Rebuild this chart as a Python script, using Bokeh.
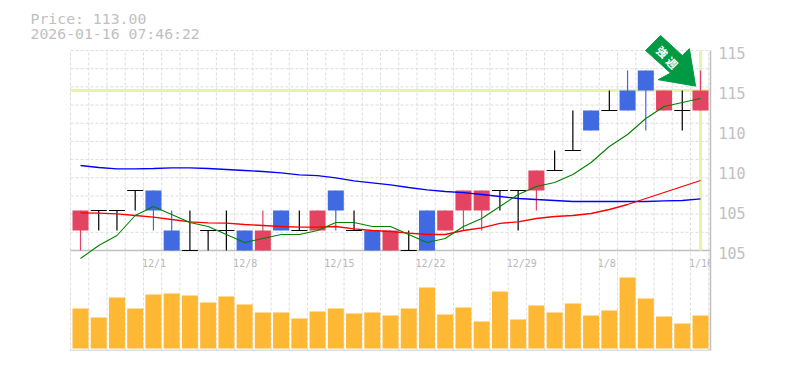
from bokeh.plotting import figure
from bokeh.embed import file_html
from bokeh.resources import INLINE
from bokeh.models import FixedTicker, LinearAxis, ColumnDataSource, Range1d
from bokeh.core.properties import value

# ---- data ----
opens  = [106,107,107,108,108,106,105,106,106,106,105,107,106,106,108,106,106,105,105,107,106,107,107,108,108,108,109,110,112,112,113,114,112,112,112]
closes = [107,107,107,108,107,105,105,106,106,105,106,106,106,107,107,106,105,106,105,105,107,108,108,108,108,109,109,110,111,112,112,113,113,112,113]
highs  = [107,107,107,108,108,107,107,106,107,106,107,107,107,107,108,107,106,106,106,107,107,108,108,108,108,109,110,112,112,113,114,114,113,113,114]
lows   = [105,106,106,107,106,105,105,105,105,105,105,106,106,106,106,106,105,105,105,105,106,106,106,107,106,107,109,110,111,112,112,111,112,111,112]
ma_short = [104.6,105.25,105.75,106.75,107.2,106.8,106.4,106.2,105.8,105.4,105.6,105.8,105.8,106.0,106.4,106.4,106.2,106.2,105.8,105.4,105.6,106.2,106.6,107.2,107.8,108.2,108.4,108.8,109.4,110.2,110.8,111.6,112.2,112.4,112.6]
ma_mid = [106.88,106.87,106.83,106.75,106.67,106.55,106.43,106.38,106.37,106.3,106.25,106.2,106.17,106.17,106.2,106.08,106.0,105.95,105.87,105.8,105.8,106.0,106.13,106.36,106.43,106.6,106.7,106.75,106.85,107.05,107.3,107.6,107.9,108.2,108.5]
ma_long = [109.25,109.15,109.08,109.08,109.1,109.13,109.13,109.1,109.05,109.0,108.95,108.88,108.78,108.74,108.63,108.48,108.38,108.28,108.15,108.03,107.95,107.89,107.8,107.7,107.6,107.55,107.5,107.45,107.45,107.45,107.45,107.45,107.48,107.5,107.58]
volume = [40,31,51,40,54,55,53,46,52,44,36,36,30,37,40,35,36,33,40,61,34,41,27,57,29,43,36,45,33,38,71,50,32,25,33]
date_idx = [4,9,14,19,24,29,34]
date_labels = ["12/1","12/8","12/15","12/22","12/29","1/8","1/16"]
price_ticks = [105,107,109,111,113,115]
price_labels = ["105","105","110","110","115","115"]
last_price = 113
title_lines = ["Price: 113.00","2026-01-16 07:46:22"]
title_y = [116.6,115.85]
badge_text = ["強","週"]
badge_x = [31.92,32.46]
badge_y = [114.95,114.4]
# arrow outline, in chart coordinates (candle index, price)
arrow_x = [31.81,30.99,32.36,31.68,33.73,33.39,33.0]
arrow_y = [115.75,115.0,113.87,113.54,113.22,115.09,114.75]

UP, DOWN, DOJI = "#e24462", "#4169e1", "#000000"
GREY = "#c0c0c0"
GRID = "#dcdcdc"
CROSS = "#e4f5ab"

n = len(opens)
xs = list(range(n))
PX = 18.235               # pixels per candle
XL, XR = -0.548, 34.548   # 70..710 px
X0 = XL - 70 / PX         # left edge of the page

p = figure(width=770, height=351, output_backend="svg", toolbar_location=None,
           x_range=Range1d(X0, XR), y_range=Range1d(100, 117.5),
           min_border_left=0, min_border_right=60, min_border_top=0, min_border_bottom=1,
           outline_line_color=None, background_fill_color="white", border_fill_color="white")
p.xaxis.visible = False
p.yaxis.visible = False
p.grid.visible = False

right = LinearAxis(ticker=FixedTicker(ticks=[t - 0.1 for t in price_ticks]),
                   major_label_overrides={t - 0.1: l for t, l in zip(price_ticks, price_labels)},
                   bounds=(100, 115),
                   axis_line_color=GREY, axis_line_width=1.5,
                   major_tick_line_color=None, minor_tick_line_color=None,
                   major_label_standoff=2,
                   major_label_text_color=GREY,
                   major_label_text_font="DejaVu Sans Mono",
                   major_label_text_font_size="15px")
p.add_layout(right, "right")

# dashed grid: vertical through both panels, horizontal in the price panel only
gx = [XL + i for i in range(n + 1)]
p.segment(x0=gx, x1=gx, y0=[100] * (n + 1), y1=[115] * (n + 1), line_color=GRID, line_dash="3 2", line_width=1)
gy = [105 + i * 10 / 11 for i in range(12)]
p.segment(x0=[XL] * 12, x1=[XR] * 12, y0=gy, y1=gy, line_color=GRID, line_dash="3 2", line_width=1)

# panel baselines
p.segment(x0=[XL, XL], x1=[XR, XR], y0=[105, 100], y1=[105, 100], line_color=GREY, line_width=1.5)

# crosshair at the last price and date
p.segment(x0=[XL], x1=[XR], y0=[last_price], y1=[last_price], line_color=CROSS, line_width=3)
p.segment(x0=[n - 1], x1=[n - 1], y0=[105], y1=[115], line_color=CROSS, line_width=3)

# volume: stands on the bottom band (1 px = 0.05 price units)
p.vbar(x=xs, top=[100.1 + v * 0.05 for v in volume], bottom=100.1, width=0.877, color="#ffb833", line_color=None)

colors = [UP if c > o else DOWN if c < o else DOJI for o, c in zip(opens, closes)]
src = ColumnDataSource(dict(x=xs, h=highs, l=lows, col=colors))
p.segment(x0="x", x1="x", y0="l", y1="h", line_color="col", line_width=1.2, source=src)
body = [i for i in xs if opens[i] != closes[i]]
p.vbar(x=[xs[i] for i in body], top=[max(opens[i], closes[i]) for i in body],
       bottom=[min(opens[i], closes[i]) for i in body], width=0.877,
       fill_color=[colors[i] for i in body], line_color=None)
doji = [i for i in xs if opens[i] == closes[i]]
p.segment(x0=[i - 0.4385 for i in doji], x1=[i + 0.4385 for i in doji],
          y0=[closes[i] for i in doji], y1=[closes[i] for i in doji], line_color=DOJI, line_width=1.2)

p.line(xs, ma_long, line_color="#0000ff", line_width=1.3)
p.line(xs, ma_mid, line_color="#ff0000", line_width=1.3)
p.line(xs, ma_short, line_color="#008000", line_width=1.1)

p.text(x=date_idx, y=[104.37] * len(date_idx), text=date_labels,
       text_color="#b8b8b8", text_font=value("DejaVu Sans Mono"), text_font_size="10px",
       text_align="left", text_baseline="middle", x_offset=-11.5)

p.patch(arrow_x, arrow_y, fill_color="#009944", line_color="#009944", line_width=1)
p.text(x=badge_x, y=badge_y, text=badge_text, text_color="white", text_font=value("Noto Sans CJK JP"),
       text_font_style="bold", text_font_size="11px", angle=-0.785, text_align="center", text_baseline="middle")

p.text(x=[XL - 40 / PX] * 2, y=title_y, text=title_lines, text_color="#c0c0c0",
       text_font=value("DejaVu Sans Mono"), text_font_size="14.8px", text_align="left", text_baseline="middle")

open("out.html", "w").write(file_html(p, INLINE))
